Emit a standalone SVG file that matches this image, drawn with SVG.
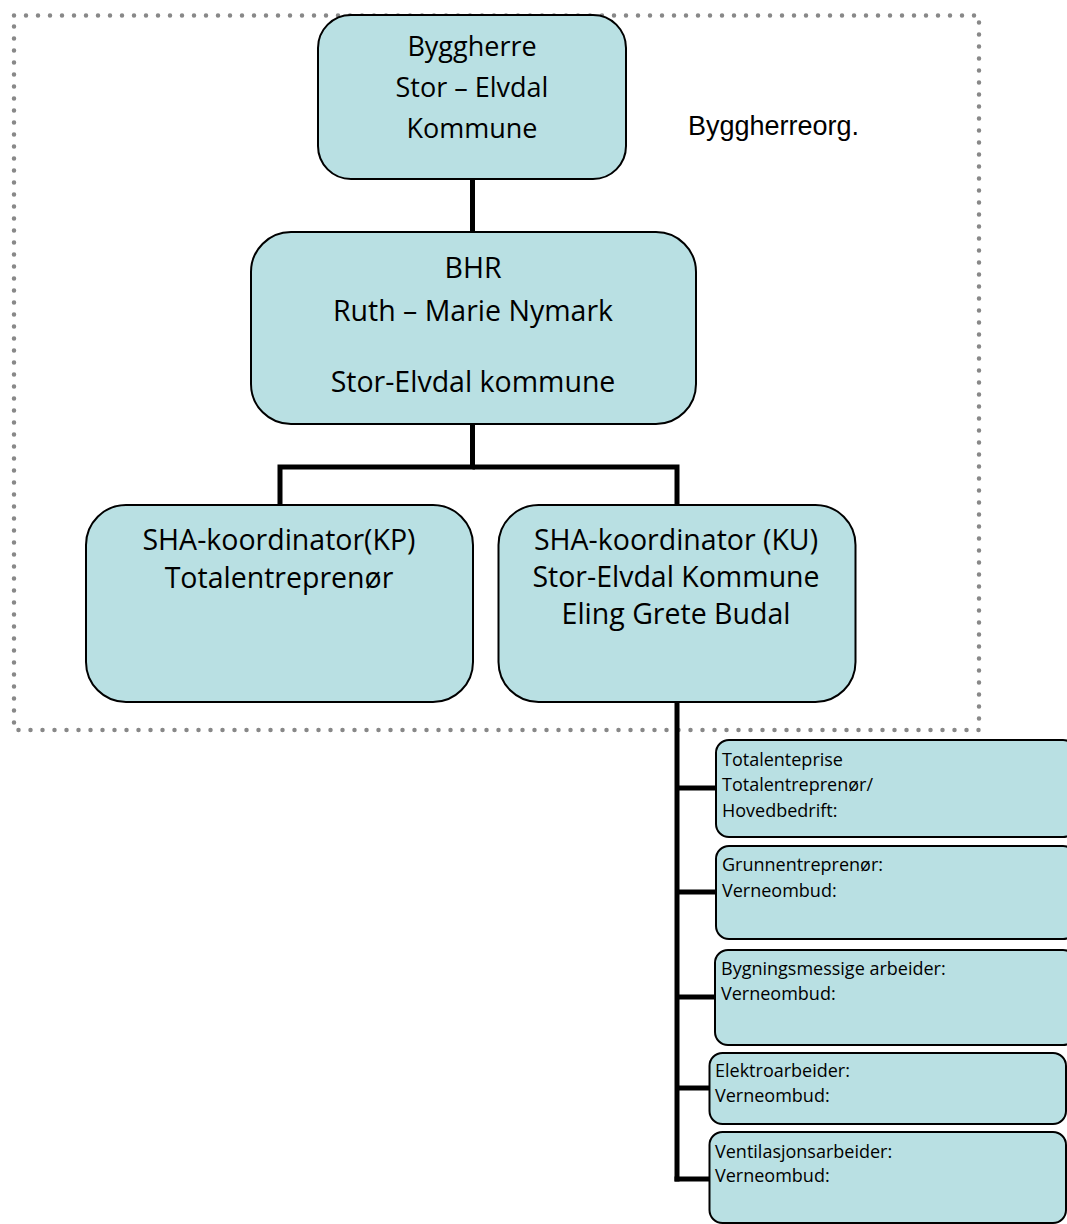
<svg xmlns="http://www.w3.org/2000/svg" width="1067" height="1224" viewBox="0 0 1067 1224">
<style>
.box{fill:#B9E0E3;stroke:#000;stroke-width:2}
.t{font-family:"Open Sans","Liberation Sans",sans-serif;font-weight:500;fill:#000;text-anchor:middle}
.big{font-size:27px}
.mid{font-size:28.5px}
.sm{font-family:"Open Sans","Liberation Sans",sans-serif;font-weight:500;font-size:18px;fill:#000}
.conn{fill:none;stroke:#000;stroke-width:5}
.dots{fill:none;stroke:#888;stroke-width:4.5;stroke-linecap:round;stroke-dasharray:0 12}
</style>
<rect x="0" y="0" width="1067" height="1224" fill="#fff"/>
<g id="frame">
<rect class="dots" x="14" y="15.5" width="965" height="714.5"/>
</g>
<g id="connectors">
<line class="conn" x1="472.5" y1="178" x2="472.5" y2="233"/>
<polyline class="conn" points="472.5,424 472.5,467 280,467 280,505"/>
<polyline class="conn" points="472.5,467 677,467 677,505"/>
<line class="conn" x1="677" y1="702" x2="677" y2="1181.5"/>
<line class="conn" x1="677" y1="788" x2="716" y2="788"/>
<line class="conn" x1="677" y1="892" x2="716" y2="892"/>
<line class="conn" x1="677" y1="997" x2="715" y2="997"/>
<line class="conn" x1="677" y1="1088" x2="709" y2="1088"/>
<line class="conn" x1="674.5" y1="1179" x2="709" y2="1179"/>
</g>
<g id="byggherre">
<rect class="box" x="318" y="15" width="308" height="164" rx="33"/>
<text class="t big" x="472" y="56">Byggherre</text>
<text class="t big" x="472" y="97">Stor – Elvdal</text>
<text class="t big" x="472" y="138">Kommune</text>
</g>
<g id="label-byggherreorg">
<text style="font-family:'Liberation Sans',Arial,sans-serif;font-size:27px" x="688" y="135">Byggherreorg.</text>
</g>
<g id="bhr">
<rect class="box" x="251" y="232" width="445" height="192" rx="40"/>
<text class="t mid" x="473" y="278">BHR</text>
<text class="t mid" x="473" y="321">Ruth – Marie Nymark</text>
<text class="t mid" x="473" y="392">Stor-Elvdal kommune</text>
</g>
<g id="sha-kp">
<rect class="box" x="86" y="505" width="387" height="197" rx="40"/>
<text class="t mid" x="279" y="550">SHA-koordinator(KP)</text>
<text class="t mid" x="279" y="588">Totalentreprenør</text>
</g>
<g id="sha-ku">
<rect class="box" x="498.5" y="505" width="357" height="197" rx="40"/>
<text class="t mid" x="676" y="550">SHA-koordinator (KU)</text>
<text class="t mid" x="676" y="587">Stor-Elvdal Kommune</text>
<text class="t mid" x="676" y="624">Eling Grete Budal</text>
</g>
<g id="totalenteprise">
<rect class="box" x="716" y="740" width="360" height="97" rx="13"/>
<text class="sm" x="722" y="766">Totalenteprise</text>
<text class="sm" x="722" y="791">Totalentreprenør/</text>
<text class="sm" x="722" y="817">Hovedbedrift:</text>
</g>
<g id="grunnentreprenor">
<rect class="box" x="716" y="846" width="360" height="93" rx="13"/>
<text class="sm" x="722" y="871">Grunnentreprenør:</text>
<text class="sm" x="722" y="897">Verneombud:</text>
</g>
<g id="bygningsmessige">
<rect class="box" x="715" y="950" width="361" height="95" rx="13"/>
<text class="sm" x="721" y="975">Bygningsmessige arbeider:</text>
<text class="sm" x="721" y="1000">Verneombud:</text>
</g>
<g id="elektro">
<rect class="box" x="709.5" y="1053" width="356.5" height="71" rx="13"/>
<text class="sm" x="715" y="1077">Elektroarbeider:</text>
<text class="sm" x="715" y="1102">Verneombud:</text>
</g>
<g id="ventilasjon">
<rect class="box" x="709.5" y="1132" width="356.5" height="91" rx="13"/>
<text class="sm" x="715" y="1158">Ventilasjonsarbeider:</text>
<text class="sm" x="715" y="1182">Verneombud:</text>
</g>
</svg>
